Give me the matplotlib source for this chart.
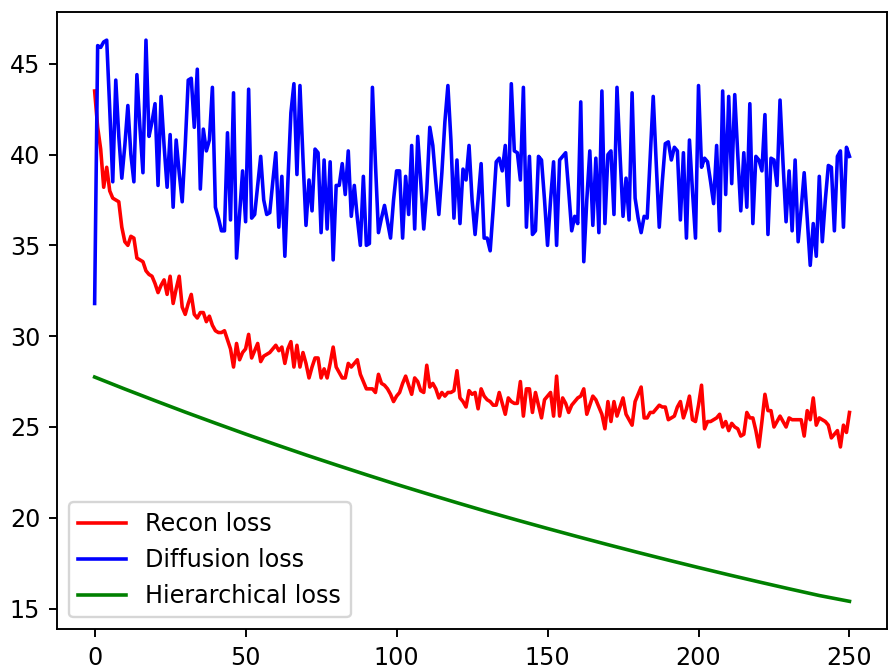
import matplotlib.pyplot as plt
import numpy as np

# Loss values per epoch
recon_loss = [
    43.5, 41.5, 40.3, 38.2, 39.3, 38.0, 37.6, 37.5, 37.4, 36.0,
    35.2, 35.0, 35.5, 35.4, 34.3, 34.2, 34.1, 33.6, 33.4, 33.3,
    32.9, 32.4, 32.8, 33.1, 32.3, 33.3, 31.8, 32.6, 33.3, 31.6,
    31.2, 31.8, 32.3, 31.2, 31.0, 31.3, 31.3, 30.8, 31.1, 30.6,
    30.3, 30.2, 30.2, 30.3, 29.8, 29.3, 28.3, 29.6, 28.7, 29.1,
    29.3, 30.1, 28.8, 29.2, 29.6, 28.6, 28.9, 29.0, 29.1, 29.3,
    29.5, 29.2, 29.4, 28.5, 29.3, 29.7, 28.3, 29.5, 28.3, 29.1,
    28.5, 27.7, 28.3, 28.8, 28.8, 27.7, 28.2, 27.7, 28.5, 29.4,
    28.3, 28.0, 27.7, 27.7, 28.5, 28.3, 28.5, 28.7, 27.9, 27.5,
    27.1, 27.1, 27.1, 26.9, 27.9, 27.4, 27.3, 27.1, 26.8, 26.4,
    26.7, 26.9, 27.4, 27.8, 27.3, 26.8, 27.7, 27.5, 27.0, 26.9,
    28.4, 27.2, 27.4, 27.1, 26.6, 26.9, 26.7, 26.9, 26.9, 27.0,
    28.1, 26.6, 26.4, 26.1, 27.0, 26.8, 26.9, 26.0, 27.1, 26.7,
    26.5, 26.4, 26.2, 26.2, 26.9, 26.3, 25.7, 26.6, 26.4, 26.3,
    26.3, 27.5, 25.6, 27.1, 27.1, 25.8, 26.9, 26.2, 25.5, 26.5,
    26.7, 26.9, 25.6, 27.8, 25.6, 26.6, 26.3, 25.8, 26.2, 26.4,
    26.6, 26.7, 27.1, 25.7, 26.2, 26.7, 26.5, 26.1, 25.7, 24.9,
    26.4, 25.3, 26.4, 25.6, 26.1, 26.6, 25.7, 25.4, 25.1, 26.4,
    26.8, 27.2, 25.5, 25.5, 25.8, 25.8, 26.0, 26.2, 26.1, 26.1,
    25.4, 25.5, 25.6, 26.1, 26.4, 25.5, 26.0, 26.7, 25.4, 25.3,
    26.2, 27.3, 24.9, 25.3, 25.3, 25.4, 25.5, 25.7, 25.0, 25.3,
    24.8, 25.2, 25.0, 24.9, 24.5, 24.6, 25.8, 25.5, 25.5, 24.8,
    23.9, 25.3, 26.8, 25.9, 25.9, 25.0, 25.3, 25.6, 25.3, 25.0,
    25.5, 25.4, 25.4, 25.4, 25.4, 24.5, 25.9, 25.4, 26.6, 25.1,
    25.5, 25.4, 25.3, 25.1, 24.4, 24.6, 24.8, 23.9, 25.1, 24.7,
    25.8,
]

diffusion_loss = [
    31.8, 46.0, 45.9, 46.2, 46.3, 42.5, 38.5, 44.1, 41.0, 38.7,
    40.5, 42.7, 40.0, 38.5, 44.4, 41.5, 39.0, 46.3, 41.0, 41.8,
    42.8, 38.3, 43.2, 40.5, 38.2, 41.1, 37.1, 40.8, 39.0, 37.4,
    40.5, 44.1, 44.2, 41.5, 44.7, 38.1, 41.4, 40.2, 40.8, 43.7,
    37.1, 36.5, 35.8, 35.8, 41.2, 36.4, 43.4, 34.3, 36.7, 39.1,
    36.3, 43.6, 36.5, 36.7, 38.3, 39.9, 37.5, 36.7, 36.8, 38.5,
    40.1, 36.0, 38.8, 34.4, 38.5, 42.3, 43.9, 38.9, 43.8, 39.8,
    36.1, 38.6, 36.9, 40.3, 40.1, 35.7, 39.7, 35.9, 39.6, 34.2,
    38.3, 38.3, 39.5, 37.8, 40.2, 36.6, 38.3, 36.5, 35.0, 38.8,
    35.0, 35.1, 43.7, 39.5, 35.7, 36.5, 37.2, 36.3, 35.4, 37.5,
    39.1, 39.1, 35.4, 38.8, 36.7, 40.5, 35.9, 41.0, 38.5, 35.9,
    38.0, 41.5, 40.5, 38.5, 36.7, 39.0, 41.8, 43.8, 40.8, 36.5,
    39.7, 36.2, 39.2, 38.6, 40.5, 37.5, 35.6, 37.5, 39.5, 35.4,
    35.4, 34.7, 37.0, 39.6, 39.8, 39.1, 40.5, 37.2, 43.9, 40.2,
    40.1, 38.6, 43.7, 36.0, 39.9, 35.6, 35.8, 39.9, 39.7, 37.5,
    35.0, 37.5, 39.6, 35.0, 39.7, 39.9, 40.1, 38.0, 35.8, 36.6,
    36.2, 42.9, 34.1, 37.5, 40.2, 36.1, 39.8, 35.7, 43.5, 36.2,
    40.0, 40.2, 36.7, 43.7, 40.0, 36.6, 38.7, 36.4, 43.4, 37.6,
    36.5, 35.7, 36.6, 36.5, 39.8, 43.2, 39.5, 36.0, 38.5, 40.6,
    40.7, 39.7, 40.4, 40.2, 36.4, 40.1, 35.4, 40.8, 38.0, 35.4,
    43.8, 39.3, 39.8, 39.6, 38.5, 37.3, 40.5, 35.8, 43.5, 37.8,
    43.2, 38.4, 43.3, 40.0, 36.9, 40.1, 37.1, 42.8, 36.2, 39.9,
    39.7, 39.1, 42.2, 35.6, 39.8, 39.7, 38.3, 43.0, 39.5, 36.3,
    39.1, 35.8, 39.7, 35.2, 37.0, 39.0, 36.5, 33.9, 36.2, 34.4,
    38.8, 35.2, 37.5, 39.4, 39.3, 35.8, 39.9, 40.2, 36.0, 40.4,
    39.9,
]

# Hierarchical loss is a smooth curve; read every 10 epochs
hier_epochs = [0, 10, 20, 30, 40, 50, 60, 70, 80, 90, 100, 110, 120,
               130, 140, 150, 160, 170, 180, 190, 200, 210, 220, 230, 240, 250]
hier_loss = [27.75, 27.09, 26.45, 25.82, 25.21, 24.61, 24.03, 23.46, 22.91,
             22.37, 21.84, 21.33, 20.83, 20.34, 19.87, 19.41, 18.96, 18.52,
             18.09, 17.67, 17.26, 16.86, 16.47, 16.09, 15.72, 15.40]

# the reference is a tightly cropped default figure at ~172 dpi
fig = plt.figure(figsize=(889 / 172, 671 / 172), dpi=172)
ax = fig.add_axes([0.064, 0.062, 0.934, 0.920])

ax.plot(np.arange(len(recon_loss)), recon_loss, color='red', label='Recon loss')
ax.plot(np.arange(len(diffusion_loss)), diffusion_loss, color='blue', label='Diffusion loss')
ax.plot(hier_epochs, hier_loss, color='green', label='Hierarchical loss')

ax.legend(loc='lower left')

fig.savefig('out.png', dpi=172)
